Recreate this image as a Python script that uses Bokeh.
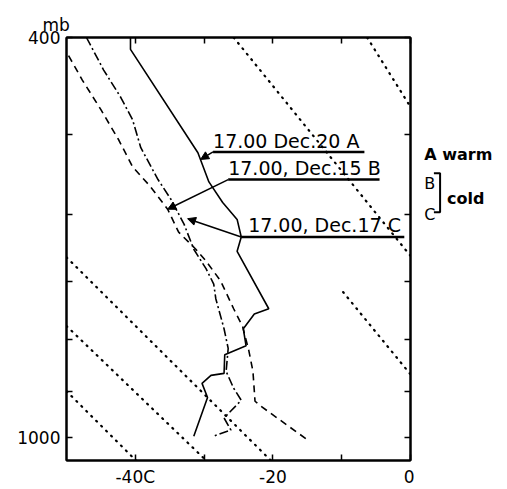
from bokeh.plotting import figure
from bokeh.layouts import row
from bokeh.models import (Range1d, FixedTicker, LinearAxis, LogAxis, Label,
                          Arrow, NormalHead)
from bokeh.embed import file_html
from bokeh.resources import INLINE

# ---- Sounding A: 17.00 Dec.20 (solid, warm) ----
a_temp = [-40.7, -40.7, -30.9, -29.3, -27.3, -25.2, -24.6, -25.2, -20.6, -22.7,
          -24.3, -23.9, -27.0, -27.1, -29.0, -30.3, -29.5, -31.5]
a_pres = [400, 411, 521, 557, 584, 607, 632, 653, 745, 754,
          780, 811, 828, 864, 868, 884, 913, 998]

# ---- Sounding B: 17.00 Dec.15 (dashed, cold) ----
b_temp = [-49.7, -47.7, -45.0, -42.4, -40.4, -37.8, -35.3, -33.7, -31.2, -29.7,
          -27.6, -25.7, -24.4, -23.5, -22.9, -22.6, -21.7, -14.9]
b_pres = [417, 441, 472, 506, 538, 563, 593, 625, 650, 668,
          699, 745, 776, 820, 860, 921, 932, 1007]

# ---- Sounding C: 17.00 Dec.17 (dash-dot, cold) ----
c_temp = [-47.1, -44.6, -42.1, -40.4, -39.2, -36.7, -34.8, -32.9, -31.5, -29.7,
          -28.6, -28.3, -27.1, -26.5, -26.8, -25.7, -24.6, -27.1, -26.1, -28.7]
c_pres = [400, 431, 459, 483, 515, 554, 580, 614, 650, 680,
          704, 728, 780, 816, 860, 894, 919, 957, 984, 998]

# ---- dotted reference lines (start / end temperature and pressure) ----
ref_t0 = [-25.7, -6.3, -9.8, -50.0, -50.0, -50.0]
ref_p0 = [400, 400, 717, 662, 775, 900]
ref_t1 = [0.0, 0.0, 0.0, -20.3, -29.7, -39.9]
ref_p1 = [660, 469, 866, 1055, 1055, 1055]

# ---- axes ----
temp_ticks = [-40, -30, -20, -10, 0]
temp_tick_labels = {-40: "-40C", -30: "", -20: "-20", -10: "", 0: "0"}
pres_ticks = [400, 500, 600, 700, 800, 900, 1000]
pres_tick_labels = {400: "400", 500: "", 600: "", 700: "", 800: "", 900: "", 1000: "1000"}

FONT = "DejaVu Sans"
Y_RANGE = (1055, 400)

p = figure(width=414, height=489, x_range=Range1d(-50, 0), y_range=Range1d(*Y_RANGE),
           y_axis_type="log", output_backend="svg", toolbar_location=None, tools="",
           min_border_left=66, min_border_right=4, min_border_top=37, min_border_bottom=26,
           background_fill_color="white", border_fill_color="white")
p.xgrid.visible = False
p.ygrid.visible = False
p.outline_line_color = "black"
p.outline_line_width = 2

# unit of the pressure axis, written above it
p.title.text = "mb"
p.title.align = "left"
p.title.offset = -24
p.title.standoff = 5
p.title.text_font = FONT
p.title.text_font_size = "17px"
p.title.text_font_style = "normal"
p.title.text_color = "black"

p.add_layout(LinearAxis(), "above")
p.add_layout(LogAxis(), "right")


def style(ax, ticks, labels, show):
    ax.ticker = FixedTicker(ticks=ticks)
    ax.major_label_overrides = labels if show else {t: "" for t in ticks}
    ax.axis_line_width = 2
    ax.axis_line_color = "black"
    ax.major_tick_in = 6
    ax.major_tick_out = 0
    ax.major_tick_line_width = 1.5
    ax.major_tick_line_color = "black"
    ax.minor_tick_line_color = None
    ax.major_label_text_font = FONT
    ax.major_label_text_color = "black"
    if show:
        ax.major_label_text_font_size = "17px"
        ax.major_label_standoff = 6
    else:
        ax.major_label_text_font_size = "0px"
        ax.major_label_standoff = 0


style(p.below[0], temp_ticks, temp_tick_labels, True)
style(p.above[0], temp_ticks, temp_tick_labels, False)
style(p.left[0], pres_ticks, pres_tick_labels, True)
style(p.right[0], pres_ticks, pres_tick_labels, False)

# dotted reference lines
p.segment(ref_t0, ref_p0, ref_t1, ref_p1, line_color="black", line_width=2.2,
          line_dash="1 6", line_cap="round")

# soundings
p.line(a_temp, a_pres, line_color="black", line_width=1.6)
p.line(b_temp, b_pres, line_color="black", line_width=1.6, line_dash="7 5")
p.line(c_temp, c_pres, line_color="black", line_width=1.6, line_dash="9 3 2 3")

# annotation labels with underline and pointer
ann = [
    # text, text x, text baseline y, underline x0, x1, underline y, arrow tip x, tip y
    ("17.00 Dec.20 A", -28.7, 507, -28.7, -6.7, 520, -30.5, 529),
    ("17.00, Dec.15 B", -26.5, 540, -26.5, -4.5, 554, -35.3, 593),
    ("17.00, Dec.17 C", -23.6, 615, -24.6, -0.9, 632, -32.4, 606),
]
for text, tx, ty, ux0, ux1, uy, ax_, ay in ann:
    p.add_layout(Label(x=tx, y=ty, text=text, text_font=FONT, text_font_size="19px",
                       text_baseline="alphabetic", text_color="black"))
    p.segment([ux0], [uy], [ux1], [uy], line_color="black", line_width=2.5)
    p.add_layout(Arrow(x_start=ux0, y_start=uy, x_end=ax_, y_end=ay, line_width=1.5,
                       end=NormalHead(size=8, fill_color="black", line_color="black")))

# ---- side panel with the warm / cold key, continuing the temperature scale ----
q = figure(width=93, height=489, x_range=Range1d(0.58, 0.58 + 93 / 6.88),
           y_range=Range1d(*Y_RANGE), y_axis_type="log", output_backend="svg",
           toolbar_location=None, tools="", x_axis_location=None, y_axis_location=None,
           min_border_left=0, min_border_right=0, min_border_top=37, min_border_bottom=26,
           background_fill_color="white", border_fill_color="white")
q.xgrid.visible = False
q.ygrid.visible = False
q.outline_line_color = None

q.add_layout(Label(x=2.0, y=523, text="A warm", text_font=FONT, text_font_size="16px",
                   text_font_style="bold", text_baseline="alphabetic", text_color="black"))
q.add_layout(Label(x=2.0, y=559, text="B", text_font=FONT, text_font_size="16px",
                   text_baseline="alphabetic", text_color="black"))
q.add_layout(Label(x=2.0, y=600, text="C", text_font=FONT, text_font_size="16px",
                   text_baseline="alphabetic", text_color="black"))
q.add_layout(Label(x=5.3, y=579, text="cold", text_font=FONT, text_font_size="16px",
                   text_font_style="bold", text_baseline="alphabetic", text_color="black"))
q.line([3.4, 4.3, 4.3, 3.4], [546, 546, 597, 597], line_color="black", line_width=2)

open("out.html", "w").write(file_html(row(p, q), INLINE))
